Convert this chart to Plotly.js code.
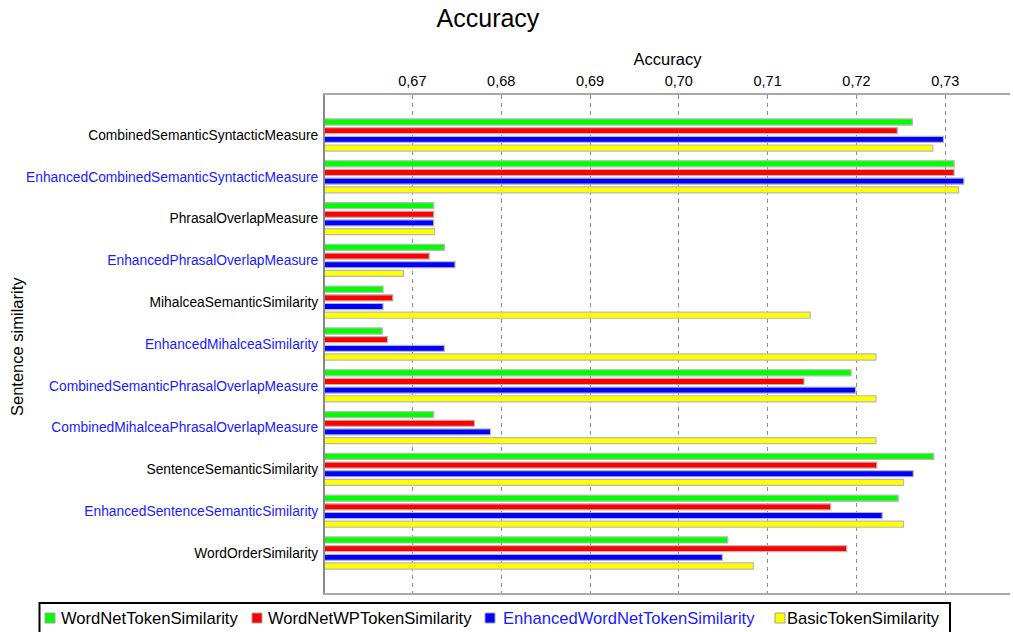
<!DOCTYPE html>
<html>
<head>
<meta charset="utf-8">
<script src="https://cdn.plot.ly/plotly-3.0.1.min.js"></script>
<style>html,body{margin:0;padding:0;background:#fff;overflow:hidden;}#chart{width:1013px;height:632px;}</style>
</head>
<body>
<div id="chart"></div>
<script>
var categories = [
  "CombinedSemanticSyntacticMeasure",
  "EnhancedCombinedSemanticSyntacticMeasure",
  "PhrasalOverlapMeasure",
  "EnhancedPhrasalOverlapMeasure",
  "MihalceaSemanticSimilarity",
  "EnhancedMihalceaSimilarity",
  "CombinedSemanticPhrasalOverlapMeasure",
  "CombinedMihalceaPhrasalOverlapMeasure",
  "SentenceSemanticSimilarity",
  "EnhancedSentenceSemanticSimilarity",
  "WordOrderSimilarity"
];
var blueLabels = [false, true, false, true, false, true, true, true, false, true, false];

var seriesNames = ["WordNetTokenSimilarity", "WordNetWPTokenSimilarity", "EnhancedWordNetTokenSimilarity", "BasicTokenSimilarity"];
var wordNetToken   = [0.7263, 0.7310, 0.6724, 0.6736, 0.6667, 0.6666, 0.7194, 0.6724, 0.7287, 0.7247, 0.7055];
var wordNetWPToken = [0.7246, 0.7310, 0.6724, 0.6719, 0.6678, 0.6672, 0.7141, 0.6770, 0.7223, 0.7171, 0.7189];
var enhancedWordNetToken = [0.7298, 0.7321, 0.6724, 0.6748, 0.6667, 0.6736, 0.7199, 0.6788, 0.7264, 0.7229, 0.7049];
var basicToken     = [0.7286, 0.7315, 0.6725, 0.6690, 0.7148, 0.7222, 0.7222, 0.7222, 0.7253, 0.7253, 0.7084];
var xTickVals = [0.67, 0.68, 0.69, 0.70, 0.71, 0.72, 0.73];

var seriesValues = [wordNetToken, wordNetWPToken, enhancedWordNetToken, basicToken];
var colors = ["#00ff00", "#ff0000", "#0000ff", "#ffff00"];
var legendBlue = [false, false, true, false];
var BLUE_TEXT = "#1a1aff";

var traces = seriesValues.map(function(vals, i) {
  return {
    type: "bar",
    orientation: "h",
    y: categories,
    x: vals,
    name: seriesNames[i],
    marker: { color: colors[i], line: { color: "#b8b8b8", width: 1.2 } },
    showlegend: false
  };
});

var tickText = categories.map(function(c, i) {
  return blueLabels[i] ? '<span style="color:' + BLUE_TEXT + '">' + c + '</span>' : c;
});

// plot area in pixels: x 325..1010, y 95..593
var PL = 325, PW = 685, PT = 95, PH = 498;
function px(x) { return (x - PL) / PW; }
function py(y) { return (PT + PH - y) / PH; }

// custom legend (box, swatches, labels)
var legendSwatchX = [45, 252, 485, 775];
var legendTextX = [61, 268, 503, 787];
var shapes = [{
  type: "rect", xref: "paper", yref: "paper",
  x0: px(39.5), x1: px(950), y0: py(603), y1: py(645),
  line: { color: "#000000", width: 2 }, fillcolor: "#ffffff", layer: "above"
}];
var annotations = [];
for (var i = 0; i < seriesNames.length; i++) {
  shapes.push({
    type: "rect", xref: "paper", yref: "paper",
    x0: px(legendSwatchX[i]), x1: px(legendSwatchX[i] + 10), y0: py(613), y1: py(623),
    line: { color: "#a0a0a0", width: 1 }, fillcolor: colors[i], layer: "above"
  });
  annotations.push({
    xref: "paper", yref: "paper", x: px(legendTextX[i] - 2), y: py(618.5),
    xanchor: "left", yanchor: "middle", showarrow: false,
    text: seriesNames[i],
    font: { size: 16.6, color: legendBlue[i] ? BLUE_TEXT : "#000000" }
  });
}
// y axis title
annotations.push({
  xref: "paper", yref: "paper", x: px(17), y: py(347),
  xanchor: "center", yanchor: "middle", showarrow: false, textangle: -90,
  text: "Sentence similarity", font: { size: 16.5, color: "#000" }
});

var layout = {
  width: 1013,
  height: 632,
  margin: { l: PL, r: 1013 - PL - PW, t: PT, b: 632 - PT - PH, autoexpand: false },
  paper_bgcolor: "#ffffff",
  plot_bgcolor: "#ffffff",
  font: { family: "Liberation Sans, Arial, sans-serif", color: "#000", size: 14 },
  separators: ",.",
  title: {
    text: "Accuracy",
    font: { size: 25, color: "#000" },
    x: 0.4817, xref: "container", xanchor: "center",
    y: 0.971, yref: "container", yanchor: "middle"
  },
  barmode: "group",
  bargap: 0.17,
  bargroupgap: 0.3,
  showlegend: false,
  xaxis: {
    side: "top",
    range: [0.66016, 0.73729],
    tickmode: "array",
    tickvals: xTickVals,
    tickformat: ".2f",
    ticks: "",
    ticklabelstandoff: 1,
    showgrid: true,
    gridcolor: "#8c8c8c",
    griddash: "4px,4px",
    gridwidth: 1,
    showline: true,
    linecolor: "#a8a8a8",
    linewidth: 2,
    mirror: true,
    zeroline: false,
    tickfont: { size: 14.5 },
    title: { text: "Accuracy", font: { size: 16.5 }, standoff: 3 },
    fixedrange: true
  },
  yaxis: {
    type: "category",
    range: [10.957, -0.957],
    tickmode: "array",
    tickvals: categories,
    ticktext: tickText,
    ticks: "",
    ticklabelstandoff: 2,
    showgrid: false,
    showline: true,
    linecolor: "#888888",
    linewidth: 2,
    zeroline: false,
    tickfont: { size: 13.8 },
    fixedrange: true
  },
  shapes: shapes,
  annotations: annotations
};

Plotly.newPlot("chart", traces, layout, { displayModeBar: false, staticPlot: true });
</script>
</body>
</html>
